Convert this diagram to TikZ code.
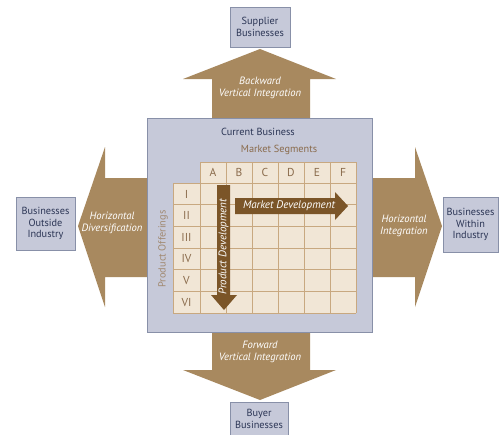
\documentclass[tikz,border=0pt]{standalone}
\usepackage{fontspec}
\setmainfont{PT Sans}
\begin{document}
\definecolor{tan}{HTML}{A8895F}
\definecolor{darktan}{HTML}{7B5528}
\definecolor{panel}{HTML}{C6C9D9}
\definecolor{panelline}{HTML}{8890A8}
\definecolor{cell}{HTML}{F1E6D6}
\definecolor{cellline}{HTML}{C8A880}
\definecolor{navy}{HTML}{2B3555}
\definecolor{brownlabel}{HTML}{8A6B4C}
\begin{tikzpicture}[x=1pt,y=-1pt,
  fs/.style={font=\fontsize{10.3}{11.5}\selectfont},
  extbox/.style={draw=panelline,fill=panel,line width=0.8pt,text=navy,align=center,fs,inner sep=0pt},
  arrowtext/.style={text=white,align=center,font=\fontsize{10.6}{12.5}\selectfont\itshape},
  gridtext/.style={text=brownlabel,font=\fontsize{11.5}{13}\selectfont},
  blockarrow/.style={fill=tan,draw=none}]
\useasboundingbox (0,0) rectangle (500,434);
\fill[white] (0,0) rectangle (500,434);

% outer block arrows
\fill[blockarrow] (212,119) -- (212,79) -- (183,79) -- (260,49) -- (336,79) -- (310,79) -- (310,119) -- cycle;
\fill[blockarrow] (212,331) -- (212,370) -- (183,370) -- (260,400) -- (336,370) -- (310,370) -- (310,331) -- cycle;
\fill[blockarrow] (148,178) -- (105,178) -- (105,147) -- (78,226) -- (105,307) -- (105,277) -- (148,277) -- cycle;
\fill[blockarrow] (372,178) -- (415,178) -- (415,147) -- (442,226) -- (415,307) -- (415,277) -- (372,277) -- cycle;

% external businesses
\node[extbox,minimum width=60pt,minimum height=40pt] (supplier) at (260,27) {Supplier\\Businesses};
\node[extbox,minimum width=58pt,minimum height=34pt] (buyer) at (259,419) {Buyer\\Businesses};
\node[extbox,minimum width=59pt,minimum height=53pt] (outside) at (45.5,223.5) {Businesses\\Outside\\Industry};
\node[extbox,minimum width=55pt,minimum height=55pt] (within) at (470.5,224.5) {Businesses\\Within\\Industry};

% labels on the block arrows
\node[arrowtext] (backward) at (260,88) {Backward\\Vertical Integration};
\node[arrowtext] (forward) at (260,352) {Forward\\Vertical Integration};
\node[arrowtext] (hdiv) at (112,223) {Horizontal\\Diversification};
\node[arrowtext] (hint) at (404,226) {Horizontal\\Integration};

% current business panel
\node[draw=panelline,fill=panel,line width=0.8pt,minimum width=225pt,minimum height=214pt,inner sep=0pt] (current) at (259.5,225) {};
\node[text=navy,fs] (currentlbl) at (258,132) {Current Business};
\node[text=brownlabel,fs] (segments) at (279,150) {Market Segments};
\node[text=brownlabel!80,fs,rotate=90] (offerings) at (163,249) {Product Offerings};

% matrix
\fill[cell] (200,162) rectangle (356,313);
\fill[cell] (173,183) rectangle (200,313);
\begin{scope}[cellline,line width=0.9pt]
  \foreach \i in {0,...,6} {
    \draw (200+26*\i,162) -- (200+26*\i,313);
  }
  \draw (173,183) -- (173,313);
  \draw (200,162) -- (356,162);
  \foreach \j in {0,...,6} {
    \draw (173,183+21.667*\j) -- (356,183+21.667*\j);
  }
\end{scope}
\foreach \l [count=\i from 0] in {A,B,C,D,E,F} {
  \node[gridtext] (col\l) at (213+26*\i,172.5) {\l};
}
\foreach \r [count=\j from 0] in {I,II,III,IV,V,VI} {
  \node[gridtext] (row\j) at (186.5,194+21.667*\j) {\r};
}

% development arrows inside the matrix
\fill[darktan] (235,198) -- (335,198) -- (335,192) -- (348,206) -- (335,220) -- (335,214) -- (235,214) -- cycle;
\node[arrowtext,font=\fontsize{11}{12}\selectfont\itshape] (mdev) at (289,206) {Market Development};
\fill[darktan] (217,185) -- (230,185) -- (230,295) -- (237,295) -- (224,310) -- (211,295) -- (217,295) -- cycle;
\node[arrowtext,font=\fontsize{11}{12}\selectfont\itshape,rotate=90] (pdev) at (223.5,247) {Product Development};
\end{tikzpicture}
\end{document}
